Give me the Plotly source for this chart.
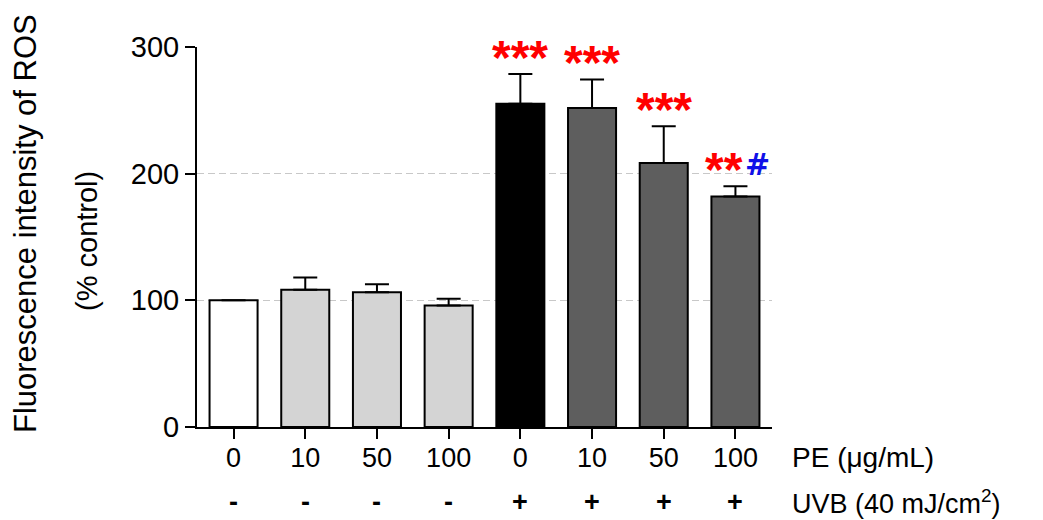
import plotly.graph_objects as go

# Treatment groups: PE dose and UVB exposure
pe_doses = ["0", "10", "50", "100", "0", "10", "50", "100"]
uvb_flags = ["-", "-", "-", "-", "+", "+", "+", "+"]

# Mean ROS fluorescence (% control) and SD
ros_mean = [100, 108.3, 106.3, 96.0, 255.2, 251.8, 208.5, 181.9]
ros_sd = [0, 9.8, 6.3, 5.2, 23.4, 22.6, 29.0, 8.2]

# Significance marks
sig_stars = ["", "", "", "", "***", "***", "***", "**"]
sig_hash = ["", "", "", "", "", "", "", "#"]

bar_colors = ["#ffffff", "#d4d4d4", "#d4d4d4", "#d4d4d4",
              "#000000", "#5e5e5e", "#5e5e5e", "#5e5e5e"]

FONT = "Arial, Liberation Sans, sans-serif"
x_pos = list(range(len(pe_doses)))

fig = go.Figure()
fig.add_trace(go.Bar(
    x=x_pos, y=ros_mean, width=0.67,
    marker=dict(color=bar_colors, line=dict(color="black", width=2)),
    error_y=dict(type="data", symmetric=False, array=ros_sd,
                 arrayminus=[0] * len(ros_sd), color="black",
                 thickness=2, width=12),
    showlegend=False,
))

annotations = []
for i, (star, hsh) in enumerate(zip(sig_stars, sig_hash)):
    top = ros_mean[i] + ros_sd[i]
    if star:
        annotations.append(dict(
            x=i, y=top, xref="x", yref="y", text=star, showarrow=False,
            yanchor="bottom", xanchor="center", yshift=-12,
            xshift=-11 if hsh else 0,
            font=dict(family=FONT, size=48, color="#ff0000", weight="bold"),
        ))
    if hsh:
        annotations.append(dict(
            x=i, y=top, xref="x", yref="y", text="<b>" + hsh + "</b>",
            showarrow=False, yanchor="bottom", xanchor="center",
            yshift=2, xshift=22,
            font=dict(family="Arial Black, DejaVu Sans, sans-serif",
                      size=30, color="#1010e8"),
        ))

# UVB row under the dose labels
for i, flag in enumerate(uvb_flags):
    annotations.append(dict(
        x=i, y=-0.197, xref="x", yref="paper", text=flag, showarrow=False,
        yanchor="middle", xanchor="center",
        font=dict(family=FONT, size=27, color="black", weight="bold"),
    ))

annotations += [
    dict(x=1.032, y=-0.08, xref="paper", yref="paper", text="PE (\u03bcg/mL)",
         showarrow=False, xanchor="left", yanchor="middle",
         font=dict(family=FONT, size=28, color="black")),
    dict(x=1.032, y=-0.197, xref="paper", yref="paper",
         text="UVB (40 mJ/cm<sup>2</sup>)",
         showarrow=False, xanchor="left", yanchor="middle",
         font=dict(family=FONT, size=27, color="black")),
    dict(x=-0.2986, y=0.535, xref="paper", yref="paper",
         text="Fluorescence intensity of ROS", textangle=-90,
         showarrow=False, xanchor="center", yanchor="middle",
         font=dict(family=FONT, size=31, color="black")),
    dict(x=-0.191, y=0.49, xref="paper", yref="paper",
         text="(% control)", textangle=-90,
         showarrow=False, xanchor="center", yanchor="middle",
         font=dict(family=FONT, size=29, color="black")),
]

fig.update_layout(
    width=1043, height=520,
    margin=dict(l=197, r=271, t=47, b=93),
    paper_bgcolor="white", plot_bgcolor="white",
    annotations=annotations,
)
fig.update_xaxes(
    range=[-0.51, 7.51], tickmode="array", tickvals=x_pos, ticktext=pe_doses,
    showline=True, linecolor="black", linewidth=2,
    ticks="outside", ticklen=10, tickwidth=2, tickcolor="black",
    tickfont=dict(family=FONT, size=27, color="black"),
    ticklabelstandoff=-4,
    showgrid=False, zeroline=False,
)
fig.update_yaxes(
    range=[0, 300], tickmode="array", tickvals=[0, 100, 200, 300],
    showline=True, linecolor="black", linewidth=2,
    ticks="outside", ticklen=10, tickwidth=2, tickcolor="black",
    tickfont=dict(family=FONT, size=29, color="black"),
    showgrid=True, gridcolor="#c8c8c8", gridwidth=1, griddash="7px,4px",
    zeroline=False,
)

fig.write_html("out.html")
